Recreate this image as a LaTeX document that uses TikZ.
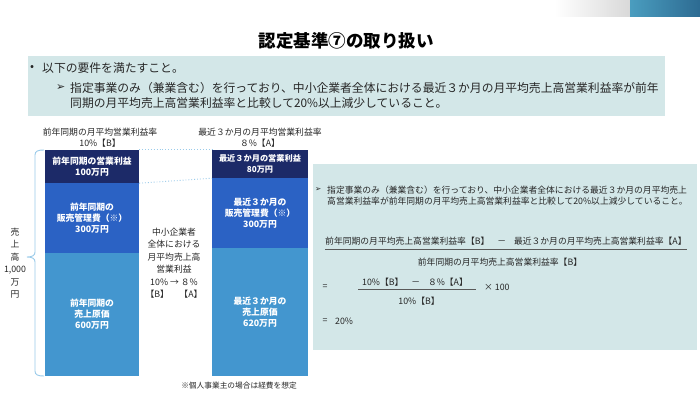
\documentclass[tikz,border=0pt]{standalone}
\usepackage{fontspec}
\setmainfont{Noto Sans CJK JP}
\newfontfamily\dejavu{DejaVu Sans}
\definecolor{navyseg}{HTML}{1C2A68}
\definecolor{blueseg}{HTML}{2B62C4}
\definecolor{lightseg}{HTML}{4396CF}
\definecolor{boxteal}{HTML}{D3E7E8}
\definecolor{bracecol}{HTML}{9ACBEA}
\definecolor{txt}{HTML}{262626}
\definecolor{tealA}{HTML}{4A9DBF}
\definecolor{tealB}{HTML}{2D6B92}
\tikzset{
  seg/.style={inner sep=0pt, text=white, font=\bfseries\fontsize{8.8}{11}\selectfont, align=center},
  lbl/.style={inner sep=0pt, text=txt, font=\fontsize{8.8}{11}\selectfont, align=center},
  toptext/.style={inner sep=0pt, anchor=west, text=txt, font=\fontsize{11.8}{14}\selectfont},
  rtext/.style={inner sep=0pt, text=txt, font=\fontsize{8.8}{11}\selectfont},
  dotline/.style={draw=bracecol, dotted, line width=0.9pt},
  fracline/.style={draw=gray!70!black, line width=0.6pt}
}
\begin{document}
\begin{tikzpicture}[x=1pt,y=-1pt]
\useasboundingbox (0,0) rectangle (700,395);
\fill[white] (0,0) rectangle (700,395);
% top-right decoration
\shade[left color=white, right color=black!15] (555,0) rectangle (630,17);
\shade[left color=tealA, right color=tealB] (630,0) rectangle (700,17);
% title
\node[inner sep=0pt, text=black, font=\bfseries\fontsize{17.5}{20}\selectfont] (title) at (346,41) {認定基準⑦の取り扱い};
% top box
\fill[boxteal] (28,56) rectangle (665,116);
\node[toptext] (bul) at (30,68) {•};
\node[toptext] (req) at (42,68) {以下の要件を満たすこと。};
\node[toptext, font=\dejavu\fontsize{11}{13}\selectfont] (arr1) at (56,88) {➢};
\node[toptext] (l1) at (70,88) {指定事業のみ（兼業含む）を行っており、中小企業者全体における最近３か月の月平均売上高営業利益率が前年};
\node[toptext] (l2) at (70,103) {同期の月平均売上高営業利益率と比較して20\%以上減少していること。};
% column labels
\node[lbl] (hb) at (100,138) {前年同期の月平均営業利益率\\10\%【B】};
\node[lbl] (ha) at (260,138) {最近３か月の月平均営業利益率\\８\%【A】};
% bar 1
\node[seg, fill=navyseg, minimum width=94pt, minimum height=33pt] (b1a) at (92,166.5) {前年同期の営業利益\\100万円};
\node[seg, fill=blueseg, minimum width=94pt, minimum height=70pt] (b1b) at (92,218) {前年同期の\\販売管理費（※）\\300万円};
\node[seg, fill=lightseg, minimum width=94pt, minimum height=123pt] (b1c) at (92,314.5) {前年同期の\\売上原価\\600万円};
% bar 2
\node[seg, fill=navyseg, minimum width=96pt, minimum height=28pt, font=\bfseries\fontsize{8.2}{10.5}\selectfont] (b2a) at (260,164) {最近３か月の営業利益\\80万円};
\node[seg, fill=blueseg, minimum width=96pt, minimum height=70pt] (b2b) at (260,213) {最近３か月の\\販売管理費（※）\\300万円};
\node[seg, fill=lightseg, minimum width=96pt, minimum height=128pt] (b2c) at (260,312) {最近３か月の\\売上原価\\620万円};
% dotted connectors
\draw[dotline] (b1a.north east) -- (b2a.north west);
\draw[dotline] (b1a.south east) -- (b2a.south west);
% brace
\draw[bracecol, line width=0.9pt] (44,150) .. controls (38,150) and (35,151) .. (35,155) -- (35,252) .. controls (35,255) and (33,257) .. (27,257) .. controls (33,257) and (35,259) .. (35,262) -- (35,371) .. controls (35,375) and (38,376) .. (44,376);
\node[lbl, font=\fontsize{8.8}{12.5}\selectfont] (sales) at (15,263) {売\\上\\高\\1,000\\万\\円};
% middle text
\node[lbl, font=\fontsize{8.8}{12.5}\selectfont] (mid) at (174,263) {中小企業者\\全体における\\月平均売上高\\営業利益\\10\% → ８\%\\【B】\hspace{1.2em}【A】};
% footnote
\node[lbl, font=\fontsize{7.7}{9}\selectfont] (note) at (239,386) {※個人事業主の場合は経費を想定};
% right box
\fill[boxteal] (313,164) rectangle (697,350);
\node[rtext, anchor=west, font=\dejavu\fontsize{7.5}{9}\selectfont] (arr2) at (315,190) {➢};
\node[rtext, anchor=west] (r1) at (327,190) {指定事業のみ（兼業含む）を行っており、中小企業者全体における最近３か月の月平均売上};
\node[rtext, anchor=west] (r2) at (327,201) {高営業利益率が前年同期の月平均売上高営業利益率と比較して20\%以上減少していること。};
\node[rtext, anchor=west] (num) at (325,241) {前年同期の月平均売上高営業利益率【B】\hspace{0.9em}－\hspace{0.9em}最近３か月の月平均売上高営業利益率【A】};
\draw[fracline] (num.west |- 0,249) -- (num.east |- 0,249);
\node[rtext] (den) at (500,262) {前年同期の月平均売上高営業利益率【B】};
\node[rtext] (eq1) at (325,287) {=};
\node[rtext] (num2) at (415,282) {10\%【B】\hspace{0.9em}－\hspace{0.9em}８\%【A】};
\draw[fracline] (358,289) -- (476,289);
\node[rtext] (den2) at (419,301) {10\%【B】};
\node[rtext, anchor=west] (times) at (484,287) {× 100};
\node[rtext] (eq2) at (325,321) {=};
\node[rtext, anchor=west] (res) at (335,321) {20\%};
\end{tikzpicture}
\end{document}
